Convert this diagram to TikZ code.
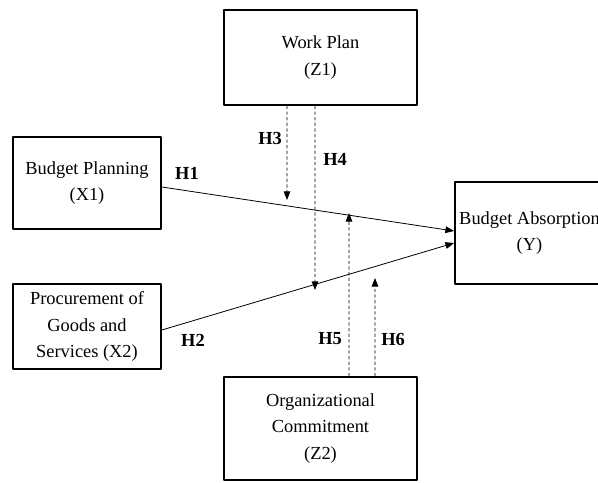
\documentclass[tikz,border=0pt]{standalone}
\usepackage{fontspec}
\setmainfont{Liberation Serif}
\usetikzlibrary{arrows.meta}
\begin{document}
\begin{tikzpicture}[x=0.75pt, y=-0.75pt, font=\fontsize{13.8}{20}\selectfont, line join=round, >={Triangle[length=6.5pt,width=5pt]},
	varbox/.style={draw, line width=1.4pt, align=center, inner sep=0pt},
	hyp/.style={font=\fontsize{13.8}{20}\selectfont\bfseries},
	link/.style={->, line width=0.6pt},
	mod/.style={->, line width=0.65pt, dash pattern=on 2.4pt off 1.8pt}]
	\useasboundingbox (0,0) rectangle (598,482);
	
	\node[varbox, minimum width=144.75pt, minimum height=71.25pt] (Z1) at (320.5,57.5) {Work Plan\\(Z1)};
	\node[varbox, minimum width=111pt, minimum height=69pt] (X1) at (87,183) {Budget Planning\\(X1)};
	\node[varbox, minimum width=111pt, minimum height=63.75pt] (X2) at (87,326.5) {Procurement of\\Goods and\\Services (X2)};
	\node[varbox, minimum width=111.75pt, minimum height=76.5pt] (Y) at (529.5,233) {Budget Absorption\\(Y)};
	\node[varbox, minimum width=144.75pt, minimum height=77.25pt] (Z2) at (320.5,428.5) {Organizational\\Commitment\\(Z2)};
	
	% direct effects
	\draw[link] ([yshift=-3pt]X1.east) -- ([yshift=1.5pt]Y.west);
	\draw[link] ([yshift=-2.6pt]X2.east) -- ([yshift=-7.5pt]Y.west);
	
	% moderating effects
	\coordinate (h3end) at (287,200);
	\coordinate (h4end) at (315,290);
	\coordinate (h5end) at (349,213);
	\coordinate (h6end) at (375,278);
	\draw[mod] ([xshift=-25.1pt]Z1.south) -- (h3end);
	\draw[mod] ([xshift=-4.1pt]Z1.south) -- (h4end);
	\draw[mod] ([xshift=21.4pt]Z2.north) -- (h5end);
	\draw[mod] ([xshift=40.9pt]Z2.north) -- (h6end);
	
	\foreach \n/\x/\y in {1/187/173, 2/193/340, 3/270/138, 4/335/159, 5/330/339, 6/393/339}
	\node[hyp] (lab\n) at (\x,\y) {H\n};
\end{tikzpicture}
\end{document}
